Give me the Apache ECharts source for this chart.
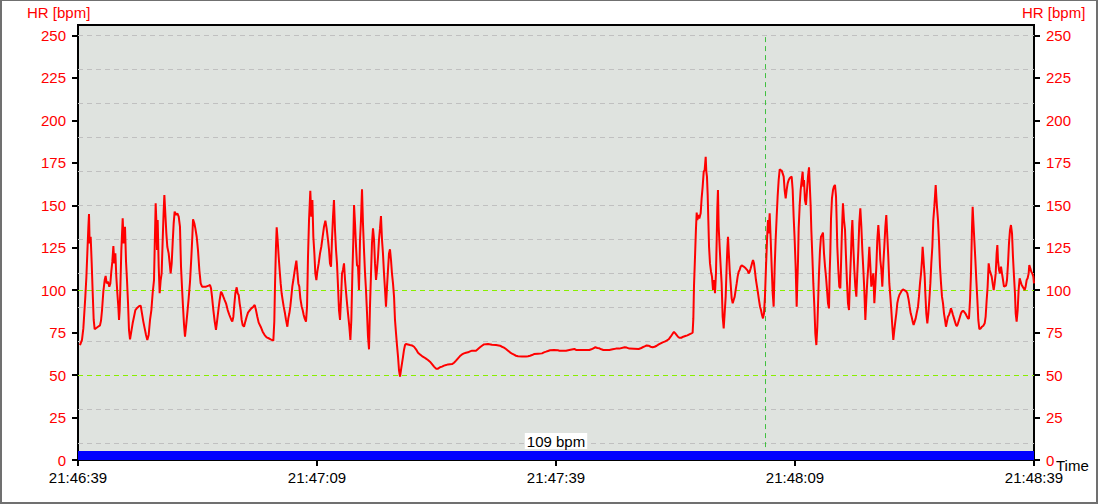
<!DOCTYPE html>
<html>
<head>
<meta charset="utf-8">
<script src="https://cdn.jsdelivr.net/npm/echarts@6/dist/echarts.min.js"></script>
<style>
html,body{margin:0;padding:0;background:#fff;}
#wrap{position:relative;width:1098px;height:504px;overflow:hidden;}
#c{width:1098px;height:504px;}
#frame{position:absolute;left:0;top:0;width:1098px;height:504px;box-sizing:border-box;border-style:solid;border-color:#707070;border-width:1px 2px 2px 2px;pointer-events:none;}
</style>
</head>
<body>
<div id="wrap"><div id="c"></div><div id="frame"></div></div>
<script>
// ---- data ----
const startClock = '21:46:39';
const xTicksSec = [0, 30, 60, 90, 120];
const yTicks = [0, 25, 50, 75, 100, 125, 150, 175, 200, 225, 250];
const yMax = 256.2;
const gridLevels = [10, 30, 70, 90, 110, 130, 150, 170, 190, 210, 230, 250];
const zoneLimits = [50, 100];
const cursorSec = 86.27;
const cursorRange = [7.6, 250];
const bandTop = 5.3;
const avgText = '109 bpm';
const axisTitle = 'HR [bpm]';
const timeTitle = 'Time';

// heart rate trace: [seconds since start, bpm]
const hrPart1 = [[0.25,67.7],[0.50,70.7],[0.67,77.5],[0.75,83.4],[0.92,96.2],[1.05,107.6],[1.17,121.7],[1.30,137.0],[1.38,144.9],[1.46,127.6],[1.59,131.5],[1.72,115.8],[1.84,99.1],[1.97,82.5],[2.09,77.1],[2.34,77.9],[2.51,78.5],[2.76,79.3],[2.89,82.1],[3.01,87.9],[3.18,99.1],[3.35,106.0],[3.47,108.4],[3.60,104.0],[3.77,105.0],[3.93,102.1],[4.06,104.0],[4.18,110.9],[4.31,116.8],[4.44,126.0],[4.56,115.8],[4.69,121.7],[4.81,108.0],[4.94,98.2],[5.06,90.3],[5.15,82.5],[5.23,88.3],[5.31,100.1],[5.44,123.7],[5.61,142.3],[5.73,127.6],[5.90,137.4],[6.03,116.8],[6.15,106.0],[6.28,92.3],[6.40,76.6],[6.53,71.1],[6.69,75.6],[6.86,80.5],[7.03,84.4],[7.20,88.3],[7.45,89.7],[7.70,90.7],[7.87,90.9],[8.03,86.4],[8.20,81.5],[8.37,77.5],[8.54,73.6],[8.70,70.7],[8.87,73.6],[9.04,82.5],[9.21,88.3],[9.37,98.2],[9.54,106.0],[9.62,123.7],[9.75,151.2],[9.83,141.3],[9.92,123.7],[10.00,141.3],[10.13,113.9],[10.25,98.2],[10.38,106.0],[10.50,109.9],[10.63,129.6],[10.75,146.3],[10.84,156.1],[10.96,145.3],[11.09,133.5],[11.21,125.6],[11.38,121.7],[11.51,115.8],[11.63,109.9],[11.76,115.8],[11.88,127.6],[12.01,139.4],[12.13,146.3],[12.30,144.3],[12.47,145.3],[12.64,143.3],[12.80,137.4],[12.93,113.9],[13.05,102.1],[13.18,90.3],[13.31,79.5],[13.43,72.6],[13.56,78.5],[13.72,86.4],[13.89,95.2],[14.06,105.0],[14.23,119.7],[14.35,131.5],[14.44,141.7],[14.60,139.4],[14.73,136.4],[14.90,131.5],[15.06,123.7],[15.23,111.9],[15.40,104.0],[15.57,102.1],[16.07,102.1],[16.40,102.7],[16.57,103.1],[16.70,101.1],[16.82,96.2],[16.99,88.3],[17.16,81.5],[17.32,76.6],[17.45,81.5],[17.62,88.3],[17.78,94.2],[17.95,99.1],[18.08,98.2],[18.24,96.2],[18.41,94.2],[18.58,92.3],[18.79,88.3],[19.00,85.4],[19.25,82.5],[19.37,81.5],[19.50,84.4],[19.62,91.3],[19.75,98.2],[19.92,101.7],[20.04,98.2],[20.17,97.2],[20.29,92.3],[20.42,88.3],[20.54,82.5],[20.67,79.5],[20.84,78.5],[21.00,81.5],[21.17,84.4],[21.34,86.8],[21.51,87.9],[21.76,89.3],[22.01,90.3],[22.18,91.3],[22.34,88.3],[22.51,84.4],[22.68,80.9],[22.93,78.5],[23.18,75.6],[23.43,73.6],[23.68,72.2],[23.93,71.7],[24.18,71.1],[24.52,70.3],[24.64,81.5],[24.73,103.1],[24.85,125.6],[24.94,137.0],[25.06,129.6],[25.19,119.7],[25.31,111.9],[25.44,104.0],[25.56,98.2],[25.69,94.2],[25.82,90.3],[25.98,86.4],[26.11,82.5],[26.28,78.5],[26.40,83.4],[26.53,86.4],[26.65,90.3],[26.78,96.2],[26.90,102.1],[27.03,106.0],[27.15,109.9],[27.28,113.9],[27.41,117.4],[27.53,110.9],[27.66,104.0],[27.78,102.1],[27.91,95.2],[28.08,90.3],[28.20,88.3],[28.33,85.4],[28.45,83.4],[28.62,81.5],[28.75,90.3],[28.87,119.7],[29.00,141.3],[29.16,158.6],[29.29,143.3],[29.42,153.1],[29.54,131.5],[29.67,121.7],[29.79,109.9],[29.92,106.0]];
const hrPart2 = [[30.04,110.9],[30.21,115.8],[30.38,121.7],[30.54,125.6],[30.71,131.5],[30.88,137.4],[31.05,141.0],[31.21,136.4],[31.38,129.6],[31.51,123.7],[31.63,115.8],[31.76,113.9],[31.88,129.6],[32.01,143.3],[32.13,153.1],[32.26,135.5],[32.39,123.7],[32.51,115.8],[32.64,102.1],[32.76,88.3],[32.89,82.5],[33.01,94.2],[33.14,109.9],[33.26,111.9],[33.39,115.8],[33.52,106.0],[33.64,99.1],[33.77,92.3],[33.89,86.4],[34.06,78.5],[34.19,70.7],[34.31,82.5],[34.44,109.9],[34.56,129.6],[34.65,150.2],[34.77,139.4],[34.90,125.6],[35.02,114.8],[35.15,113.9],[35.27,100.1],[35.40,129.6],[35.52,141.3],[35.65,159.4],[35.77,139.4],[35.90,123.7],[36.03,109.9],[36.15,100.1],[36.28,86.4],[36.40,72.6],[36.53,65.2],[36.65,90.3],[36.78,109.9],[36.90,127.6],[37.03,136.4],[37.16,129.6],[37.28,115.8],[37.41,106.0],[37.53,111.9],[37.66,119.7],[37.78,129.6],[37.91,136.4],[38.03,143.7],[38.16,129.6],[38.28,121.7],[38.41,109.9],[38.54,100.1],[38.66,90.3],[38.79,102.1],[38.91,111.9],[39.04,121.7],[39.16,124.1],[39.29,117.8],[39.41,109.9],[39.54,104.0],[39.67,96.2],[39.79,82.5],[39.92,74.6],[40.04,67.7],[40.17,60.9],[40.29,53.0],[40.42,49.1],[40.54,53.0],[40.67,56.9],[40.80,60.9],[40.92,64.8],[41.05,67.7],[41.17,68.3],[41.67,67.7],[41.92,67.5],[42.18,66.7],[42.43,65.2],[42.68,63.2],[42.93,62.2],[43.18,61.2],[43.43,60.5],[43.68,59.7],[43.93,58.9],[44.18,57.9],[44.44,56.5],[44.69,55.0],[44.94,53.8],[45.19,53.8],[45.44,54.6],[45.69,55.0],[45.94,55.6],[46.19,55.9],[46.44,56.3],[46.95,56.5],[47.20,57.3],[47.45,58.5],[47.70,59.9],[47.95,61.2],[48.20,62.2],[48.45,62.8],[48.70,63.2],[48.95,63.4],[49.21,64.0],[49.46,64.4],[49.96,64.4],[50.21,65.4],[50.46,66.4],[50.71,67.3],[50.96,68.1],[51.46,68.3],[51.97,67.9],[52.47,67.7],[52.97,67.3],[53.22,66.7],[53.47,66.2],[53.72,65.4],[53.98,64.4],[54.23,63.4],[54.48,62.6],[54.73,62.0],[54.98,61.4],[55.23,61.1],[55.73,60.9],[56.24,60.9],[56.49,61.1],[56.74,61.4],[56.99,61.8],[57.24,62.4],[57.74,62.6],[58.24,62.8],[58.49,63.4],[58.75,63.8],[59.00,64.2],[59.25,64.6],[59.75,64.8],[60.25,64.6]];
const hrPart3 = [[60.42,64.4],[60.84,64.4],[61.26,64.4],[61.67,64.8],[62.30,65.4],[62.51,64.8],[63.35,64.8],[64.18,64.8],[64.44,65.2],[64.69,65.8],[64.94,66.4],[65.19,66.0],[65.44,65.8],[65.69,65.2],[65.94,64.8],[66.69,64.8],[67.11,65.2],[67.53,65.6],[67.95,65.6],[68.62,66.4],[68.87,66.2],[69.21,65.6],[70.38,65.4],[70.63,65.8],[70.88,66.4],[71.13,66.9],[71.38,67.5],[71.63,67.3],[71.88,66.7],[72.13,66.4],[72.38,66.7],[72.64,67.3],[72.89,68.1],[73.14,68.7],[73.39,69.3],[73.64,69.7],[73.89,70.3],[74.14,71.1],[74.39,72.6],[74.64,74.4],[74.81,75.4],[74.98,74.6],[75.15,73.6],[75.31,72.6],[75.48,72.0],[75.73,72.0],[75.98,72.6],[76.23,73.0],[76.49,73.4],[76.74,74.0],[76.99,74.6],[77.15,75.0],[77.24,83.4],[77.32,102.1],[77.45,119.7],[77.57,136.4],[77.66,145.7],[77.74,141.3],[77.87,144.3],[77.99,142.3],[78.16,145.3],[78.28,154.1],[78.41,161.0],[78.54,169.8],[78.66,170.8],[78.79,178.6],[78.87,169.8],[78.95,166.9],[79.04,156.1],[79.12,141.3],[79.21,125.6],[79.33,115.8],[79.46,110.9],[79.58,108.0],[79.71,100.1],[79.83,106.0],[79.96,98.2],[80.08,109.9],[80.17,129.6],[80.25,148.2],[80.33,159.0],[80.42,137.4],[80.54,125.6],[80.67,113.9],[80.79,104.0],[80.92,84.4],[81.05,77.5],[81.17,86.4],[81.30,96.2],[81.42,113.9],[81.51,124.7],[81.59,131.5],[81.67,123.7],[81.80,111.9],[81.92,104.0],[82.05,95.2],[82.18,92.3],[82.30,94.2],[82.43,96.2],[82.55,100.1],[82.68,104.0],[82.80,108.0],[82.93,110.9],[83.05,111.9],[83.18,113.9],[83.31,114.6],[83.56,113.9],[83.81,112.9],[84.06,111.5],[84.18,109.9],[84.31,110.9],[84.44,112.9],[84.60,115.8],[84.73,117.8],[84.85,115.8],[84.98,110.9],[85.10,106.0],[85.23,102.1],[85.36,98.2],[85.48,94.2],[85.61,90.3],[85.73,88.3],[85.86,85.4],[85.98,83.4],[86.11,86.4],[86.23,96.2],[86.36,113.9],[86.49,129.6],[86.61,141.3],[86.69,133.5],[86.82,145.3],[86.95,129.6],[87.07,113.9],[87.20,98.2],[87.32,90.3],[87.45,113.9],[87.57,129.6],[87.70,143.3],[87.82,155.1],[87.95,164.9],[88.08,171.2],[88.20,170.8],[88.33,170.4],[88.45,168.8],[88.58,166.9],[88.70,159.0],[88.83,154.1],[88.95,159.0],[89.08,162.9],[89.21,164.9],[89.33,165.9],[89.46,166.5],[89.58,166.9],[89.71,159.0],[89.83,143.3],[89.96,129.6],[90.08,113.9],[90.21,90.3]];
const hrPart4 = [[90.29,104.0],[90.38,117.8],[90.46,136.4],[90.59,150.2],[90.71,159.0],[90.84,164.9],[90.96,169.8],[91.05,161.0],[91.13,164.9],[91.25,153.1],[91.38,150.2],[91.51,159.0],[91.63,166.9],[91.76,172.4],[91.88,159.0],[91.97,149.2],[92.05,135.5],[92.18,119.7],[92.30,104.0],[92.43,90.3],[92.55,74.6],[92.68,67.7],[92.80,78.5],[92.89,91.3],[93.01,109.9],[93.14,123.7],[93.26,131.5],[93.39,132.5],[93.51,133.9],[93.64,121.7],[93.77,113.9],[93.89,108.0],[94.02,100.1],[94.14,92.3],[94.27,89.3],[94.35,109.9],[94.43,121.7],[94.52,142.1],[94.64,154.1],[94.77,159.0],[94.89,161.0],[95.02,162.0],[95.15,155.1],[95.23,141.3],[95.31,125.6],[95.44,111.9],[95.56,102.1],[95.69,101.1],[95.77,113.9],[95.86,129.6],[95.94,141.3],[96.02,151.2],[96.15,141.3],[96.28,135.5],[96.40,119.7],[96.53,104.0],[96.65,92.3],[96.78,88.3],[96.90,106.0],[97.03,121.7],[97.11,133.5],[97.20,141.3],[97.32,125.6],[97.45,111.9],[97.57,102.1],[97.70,96.2],[97.82,109.9],[97.95,123.7],[98.07,139.4],[98.20,148.2],[98.33,137.4],[98.45,123.7],[98.58,111.9],[98.70,100.1],[98.83,82.5],[98.95,94.2],[99.08,106.0],[99.20,113.9],[99.33,125.6],[99.46,113.9],[99.58,102.1],[99.71,106.0],[99.83,109.9],[99.96,92.3],[100.08,102.1],[100.21,113.9],[100.33,129.6],[100.46,138.4],[100.59,129.6],[100.71,117.8],[100.84,111.9],[100.96,102.1],[101.09,115.8],[101.21,125.6],[101.34,137.4],[101.46,144.3],[101.59,131.5],[101.71,119.7],[101.84,104.0],[101.97,96.2],[102.09,88.3],[102.22,78.5],[102.34,70.7],[102.47,76.6],[102.59,81.5],[102.72,86.4],[102.84,92.3],[102.97,95.2],[103.10,97.2],[103.22,98.2],[103.39,99.7],[103.56,100.5],[103.72,100.1],[103.93,99.5],[104.10,98.2],[104.27,94.2],[104.39,90.3],[104.52,86.4],[104.64,84.4],[104.77,81.5],[104.89,79.5],[105.02,81.5],[105.15,83.4],[105.27,86.4],[105.44,90.3],[105.56,96.2],[105.69,104.0],[105.82,109.9],[105.94,117.8],[106.02,125.6],[106.11,119.7],[106.19,113.9],[106.28,108.0],[106.36,98.2],[106.48,86.4],[106.61,80.5],[106.74,86.4],[106.86,94.2],[106.99,104.0],[107.11,115.8],[107.24,125.6],[107.36,141.3],[107.49,149.2],[107.57,155.1],[107.66,162.0],[107.74,155.1],[107.82,149.2],[107.95,141.3],[108.07,129.6],[108.20,113.9],[108.33,104.0],[108.45,96.2],[108.58,92.3],[108.70,86.4],[108.83,82.5],[108.95,78.5],[109.08,81.5],[109.20,84.4],[109.33,85.4],[109.46,87.4],[109.58,89.3],[109.71,87.4],[109.83,85.4],[109.96,83.4],[110.08,81.5],[110.21,79.5],[110.33,78.9],[110.46,80.5],[110.59,82.5],[110.71,84.4],[110.84,86.4],[110.96,87.4],[111.09,87.9],[111.21,87.4],[111.38,86.4],[111.55,84.8],[111.72,83.4],[111.84,83.4],[111.97,94.2],[112.09,109.9],[112.22,137.4],[112.30,149.2],[112.38,141.3],[112.51,129.6],[112.64,117.8],[112.76,106.0],[112.89,94.2],[113.01,82.5],[113.14,77.0],[113.31,77.5],[113.47,78.5],[113.64,79.1],[113.81,80.5],[113.93,84.4],[114.06,94.2],[114.18,102.1],[114.31,115.8],[114.43,111.9],[114.56,109.9],[114.69,108.0],[114.81,104.0],[114.94,100.1],[115.06,104.0],[115.19,109.9],[115.31,121.7],[115.40,126.6],[115.48,117.8],[115.61,111.9],[115.73,109.9],[115.86,113.9],[115.98,109.9],[116.11,106.0],[116.23,102.1],[116.49,102.7],[116.61,106.0],[116.74,115.8],[116.86,127.6],[116.99,135.5],[117.11,138.4],[117.24,133.5],[117.36,119.7],[117.49,108.0],[117.61,98.2],[117.70,86.4],[117.82,81.5],[117.95,88.3],[118.07,100.1],[118.20,107.0],[118.33,105.0],[118.45,103.1],[118.58,102.1],[118.70,101.1],[118.83,100.1],[118.95,102.1],[119.08,106.0],[119.20,107.0],[119.33,109.9],[119.41,114.8],[119.54,112.9],[119.66,110.9],[119.79,109.9],[119.92,108.0],[120.0,104.0]];

const hrTrace = hrPart1.concat(hrPart2, hrPart3, hrPart4);

// ---- chart ----
const FONT = '"Liberation Sans", Arial, sans-serif';
function clockLabel(sec) {
  const p = startClock.split(':').map(Number);
  let t = p[0] * 3600 + p[1] * 60 + p[2] + Math.round(sec);
  const h = Math.floor(t / 3600) % 24, m = Math.floor(t / 60) % 60, s = t % 60;
  const z = n => (n < 10 ? '0' : '') + n;
  return z(h) + ':' + z(m) + ':' + z(s);
}

const chart = echarts.init(document.getElementById('c'), null, { renderer: 'svg', width: 1098, height: 504 });

function yAxisDef(pos) {
  return {
    type: 'value', min: 0, max: yMax, position: pos,
    axisLine: { show: true, onZero: false, lineStyle: { color: '#000', width: 2 } },
    axisTick: { show: true, length: 6, customValues: yTicks, lineStyle: { color: '#000', width: 2 } },
    axisLabel: { customValues: yTicks, color: '#ff0000', fontSize: 15, fontFamily: FONT, margin: 12 },
    splitLine: { show: false }
  };
}

const greyLines = gridLevels.map(v => ({ yAxis: v, lineStyle: { color: '#c0c0c0', type: [5, 4], width: 1 } }));
const greenLines = zoneLimits.map(v => ({ yAxis: v, lineStyle: { color: '#88ee00', type: [5, 4], width: 1 } }));

chart.setOption({
  animation: false,
  textStyle: { fontFamily: FONT },
  grid: { left: 78, right: 64, top: 25, bottom: 44, show: true, backgroundColor: '#dfe3df', borderColor: '#000', borderWidth: 2 },
  xAxis: {
    type: 'value', min: xTicksSec[0], max: xTicksSec[xTicksSec.length - 1], interval: 30,
    axisLine: { show: true, onZero: false, lineStyle: { color: '#000', width: 2 } },
    axisTick: { show: true, length: 6, lineStyle: { color: '#000', width: 2 } },
    axisLabel: { color: '#000', fontSize: 15, fontFamily: FONT, margin: 10, formatter: v => clockLabel(v), showMinLabel: true, showMaxLabel: true },
    splitLine: { show: false }
  },
  yAxis: [yAxisDef('left'), yAxisDef('right')],
  graphic: [
    { type: 'text', left: 27, top: 5, style: { text: axisTitle, fill: '#ff0000', font: '15px ' + FONT } },
    { type: 'text', left: 1022, top: 5, style: { text: axisTitle, fill: '#ff0000', font: '15px ' + FONT } },
    { type: 'text', left: 1056, top: 458, style: { text: timeTitle, fill: '#000', font: '15px ' + FONT } }
  ],
  series: [
    {
      type: 'line', data: [], silent: true, z: 1,
      markLine: {
        silent: true, symbol: 'none', label: { show: false }, z: 3,
        data: greyLines.concat(greenLines, [[
          { coord: [cursorSec, cursorRange[0]], lineStyle: { color: '#40c040', type: [5, 4], width: 1 } },
          { coord: [cursorSec, cursorRange[1]] }
        ]])
      },
      markArea: {
        silent: true, z: 6,
        itemStyle: { color: '#0000ff' },
        label: { show: true, position: 'top', distance: 2, formatter: avgText, color: '#000', fontSize: 15, fontFamily: FONT, backgroundColor: '#fff', padding: [1, 2, 0, 2] },
        data: [[{ xAxis: xTicksSec[0], yAxis: 0 }, { xAxis: xTicksSec[xTicksSec.length - 1], yAxis: bandTop }]]
      }
    },
    {
      type: 'line', data: hrTrace, z: 10, showSymbol: false, symbol: 'none',
      lineStyle: { color: '#ff0000', width: 2 }, silent: true
    }
  ]
});
</script>
</body>
</html>
